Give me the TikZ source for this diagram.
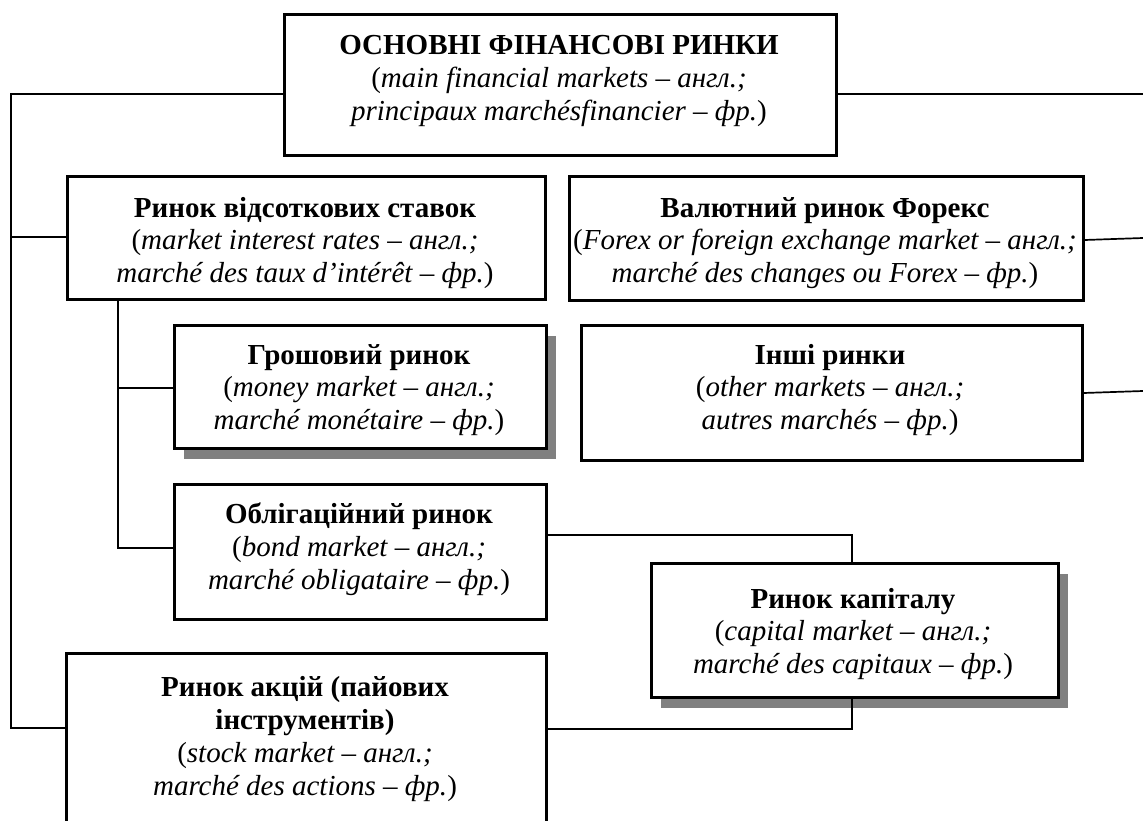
\documentclass[tikz,border=0pt]{standalone}
\usepackage{fontspec}
\setmainfont{Liberation Serif}
\usetikzlibrary{shadows}
\begin{document}
\begin{tikzpicture}[x=1pt,y=-1pt,
  box/.style={draw=black, line width=2.6pt, fill=white, inner sep=0pt, anchor=north west},
  mainbox/.style={box, line width=3.4pt},
  shaded/.style={general shadow={fill=black!50, shadow xshift=10pt, shadow yshift=-11pt}},
  txt/.style={align=center, inner sep=0pt, font=\fontsize{29pt}{32.8pt}\selectfont},
  link/.style={draw=black, line width=1.7pt}]
\useasboundingbox (0,0) rectangle (1143,821);
\clip (0,0) rectangle (1143,821);

% boxes
\node[mainbox, minimum width=552pt, minimum height=141pt] (top) at (283,13) {};
\node[box, minimum width=478pt, minimum height=123pt] (rates) at (66,175) {};
\node[box, minimum width=514pt, minimum height=124pt] (forex) at (568,175) {};
\node[box, shaded, minimum width=372pt, minimum height=123pt] (money) at (173,324) {};
\node[box, minimum width=501pt, minimum height=135pt] (other) at (580,324) {};
\node[box, minimum width=372pt, minimum height=135pt] (bond) at (173,483) {};
\node[box, shaded, minimum width=407pt, minimum height=134pt] (capital) at (650,562) {};
\node[box, minimum width=480pt, minimum height=260pt] (stock) at (65,652) {};

% labels
\node[txt] (topT) at (559,81) {\textbf{ОСНОВНІ ФІНАНСОВІ РИНКИ}\\(\textit{main financial markets – англ.;}\\\textit{principaux marchésfinancier – фр.})};
\node[txt] (ratesT) at (305,243) {\textbf{Ринок відсоткових ставок}\\(\textit{market interest rates – англ.;}\\\textit{marché des taux d’intérêt – фр.})};
\node[txt] (forexT) at (825,243) {\textbf{Валютний ринок Форекс}\\(\textit{Forex or foreign exchange market – англ.;}\\\textit{marché des changes ou Forex – фр.})};
\node[txt] (moneyT) at (359,390) {\textbf{Грошовий ринок}\\(\textit{money market – англ.;}\\\textit{marché monétaire – фр.})};
\node[txt] (otherT) at (830,390) {\textbf{Інші ринки}\\(\textit{other markets – англ.;}\\\textit{autres marchés – фр.})};
\node[txt] (bondT) at (359,549) {\textbf{Облігаційний ринок}\\(\textit{bond market – англ.;}\\\textit{marché obligataire – фр.})};
\node[txt] (capitalT) at (853,634) {\textbf{Ринок капіталу}\\(\textit{capital market – англ.;}\\\textit{marché des capitaux – фр.})};
\node[txt] (stockT) at (305,739) {\textbf{Ринок акцій (пайових}\\\textbf{інструментів)}\\(\textit{stock market – англ.;}\\\textit{marché des actions – фр.})};

% elbow points and free ends
\coordinate (spineTop) at (11,94);
\coordinate (spineMid) at (11,237);
\coordinate (spineBot) at (11,728);
\coordinate (endTop) at (1143,94);
\coordinate (forexOut) at (0,240);
\coordinate (endForex) at (1143,238);
\coordinate (otherOut) at (0,393);
\coordinate (endOther) at (1143,391);
\coordinate (subMoney) at (118,388);
\coordinate (subBond) at (118,548);
\coordinate (capUp) at (852,535);
\coordinate (capDown) at (852,729);

% connectors
\draw[link] (top.west |- spineTop) -- (spineTop) -- (spineBot) -- (stock.west |- spineBot);
\draw[link] (spineMid) -- (rates.west |- spineMid);
\draw[link] (top.east |- endTop) -- (endTop);
\draw[link] (forex.east |- forexOut) -- (endForex);
\draw[link] (other.east |- otherOut) -- (endOther);
\draw[link] (rates.south -| subBond) -- (subBond) -- (bond.west |- subBond);
\draw[link] (subMoney) -- (money.west |- subMoney);
\draw[link] (bond.east |- capUp) -- (capUp) -- (capital.north -| capUp);
\draw[link] (capital.south -| capDown) -- (capDown) -- (stock.east |- capDown);
\end{tikzpicture}
\end{document}
